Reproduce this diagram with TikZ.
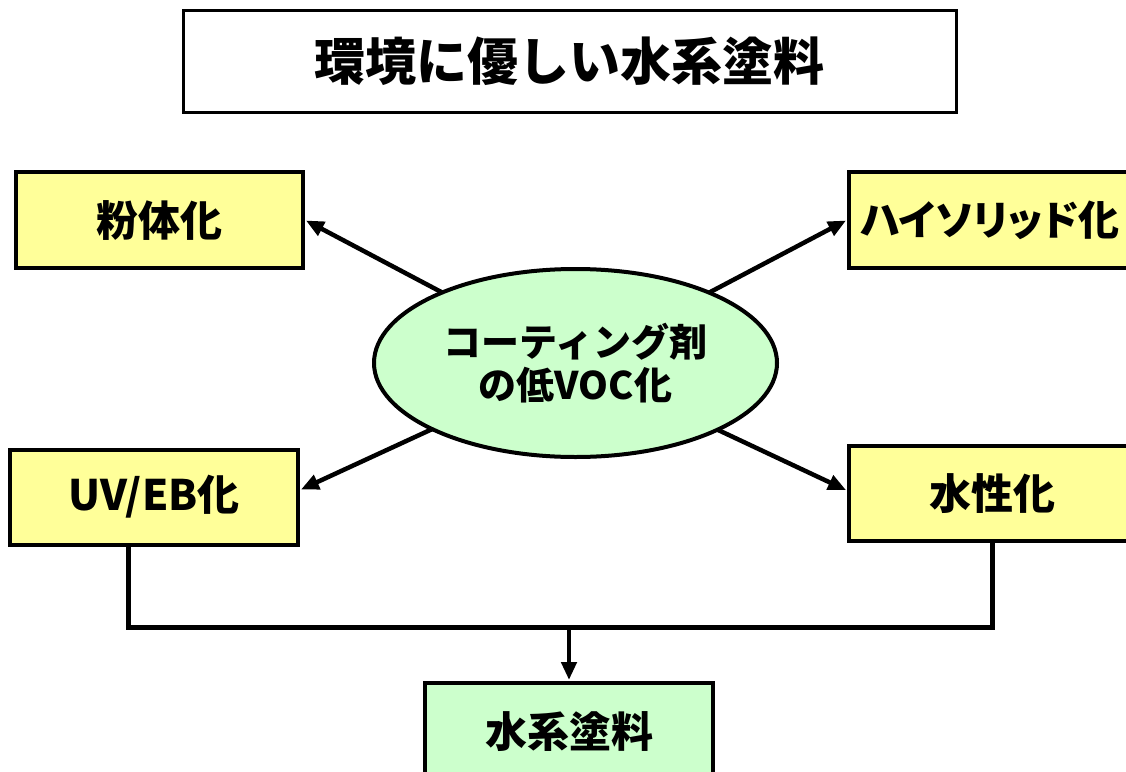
\documentclass[tikz,border=0pt]{standalone}
\usepackage{fontspec}
\setmainfont{Noto Sans CJK JP}
\newfontfamily\jpp{Noto Sans CJK JP}[RawFeature=+palt]
\usetikzlibrary{arrows.meta,backgrounds,shapes.geometric}
\definecolor{boxyellow}{HTML}{FFFF99}
\definecolor{boxgreen}{HTML}{CCFFCC}
\tikzset{
  titlebox/.style={draw=black,line width=3pt,fill=white,rectangle,inner sep=0pt,
    font=\fontsize{51}{56}\selectfont\bfseries},
  ybox/.style={draw=black,line width=4pt,fill=boxyellow,rectangle,inner sep=0pt,
    font=\fontsize{42}{46}\selectfont\bfseries},
  gbox/.style={draw=black,line width=4pt,fill=boxgreen,rectangle,inner sep=0pt,
    font=\fontsize{42}{46}\selectfont\bfseries},
  oval/.style={draw=black,line width=4pt,fill=boxgreen,ellipse,inner sep=0pt,align=center,
    font=\fontsize{38}{43}\selectfont\bfseries},
  arr/.style={line width=4.5pt,-{Triangle[length=18pt,width=15pt]},shorten >=1pt},
  conn/.style={line width=5pt}
}
\begin{document}
\begin{tikzpicture}[x=1pt,y=-1pt]
\useasboundingbox (0,0) rectangle (1126,771);
\clip (0,0) rectangle (1126,771);
\node[titlebox,minimum width=773pt,minimum height=102pt] (title) at (569.5,61) {環境に優しい水系塗料};
\node[ybox,minimum width=287pt,minimum height=96pt] (fun) at (159.5,220) {粉体化};
\node[ybox,minimum width=282pt,minimum height=96pt,font=\fontsize{41}{46}\selectfont\bfseries] (hs) at (990,220) {\jpp ハイソリッド化};
\node[ybox,minimum width=288pt,minimum height=95pt] (uv) at (154,497) {UV/EB化};
\node[ybox,minimum width=286pt,minimum height=95pt] (sui) at (992,493.5) {水性化};
\node[gbox,minimum width=288pt,minimum height=98pt] (kei) at (569,732) {水系塗料};
\node[oval,minimum width=403pt,minimum height=188pt] (e) at (575.5,363) {コーティング剤\\の低VOC化};
\coordinate (mid) at (569,627);
\begin{pgfonlayer}{background}
\draw[arr] (e.center) -- (fun.east);
\draw[arr] (e.center) -- (hs.west);
\draw[arr] (e.center) -- ([yshift=7pt]uv.east);
\draw[arr] (e.center) -- ([yshift=3pt]sui.west);
\end{pgfonlayer}
\draw[conn] ([xshift=-26pt]uv.south) |- (mid) -| (sui.south);
\draw[arr] (mid) -- (kei.north);
\end{tikzpicture}
\end{document}
